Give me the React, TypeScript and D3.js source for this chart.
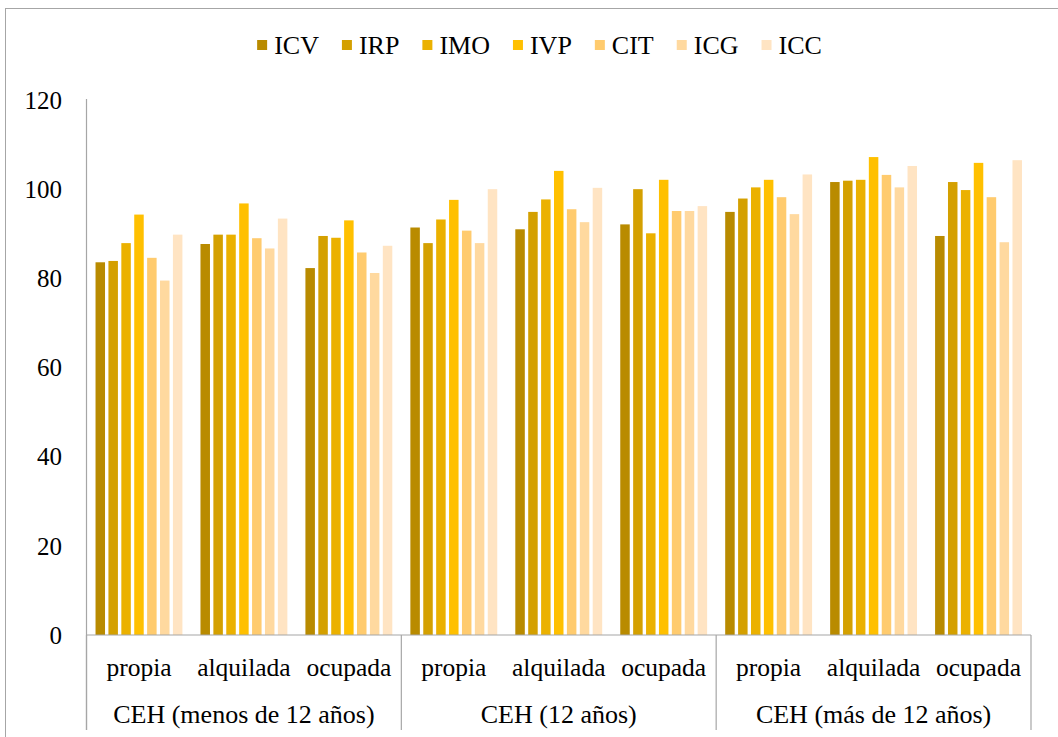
import React, { useEffect, useRef } from "react";
import * as d3 from "d3";

const series = ["ICV", "IRP", "IMO", "IVP", "CIT", "ICG", "ICC"];
const colors = ["#B98B00", "#D4A000", "#EBB100", "#FFC000", "#FFCB6E", "#FFD99F", "#FFE4C3"];
const groups = ["CEH (menos de 12 años)", "CEH (12 años)", "CEH (más de 12 años)"];
const tenures = ["propia", "alquilada", "ocupada"];
const yTicks = [0, 20, 40, 60, 80, 100, 120];

// values[category index][series index], categories in order group x tenure
const ICV = [83.6, 87.7, 82.3, 91.4, 91.0, 92.1, 94.9, 101.6, 89.5];
const IRP = [83.9, 89.8, 89.5, 87.9, 94.9, 100.0, 97.9, 101.9, 101.6];
const IMO = [87.9, 89.8, 89.1, 93.2, 97.7, 90.1, 100.4, 102.1, 99.8];
const IVP = [94.3, 96.8, 93.0, 97.6, 104.1, 102.1, 102.1, 107.2, 105.9];
const CIT = [84.6, 89.0, 85.8, 90.7, 95.5, 95.1, 98.2, 103.2, 98.2];
const ICG = [79.5, 86.7, 81.2, 87.9, 92.6, 95.1, 94.4, 100.4, 88.1];
const ICC = [89.8, 93.4, 87.3, 100.0, 100.3, 96.2, 103.3, 105.2, 106.5];
const seriesValues = [ICV, IRP, IMO, IVP, CIT, ICG, ICC];

const W = 1058;
const H = 737;
const FONT = "'Liberation Serif', 'Times New Roman', serif";

export default function App() {
  const ref = useRef<SVGSVGElement | null>(null);

  useEffect(() => {
    const svg = d3.select(ref.current);
    svg.selectAll("*").remove();

    const left = 86.5;
    const right = 1031;
    const top = 100;
    const bottom = 635;
    const axisColor = "#A6A6A6";

    // outer border
    svg.append("rect").attr("x", 5.5).attr("y", 8.5).attr("width", W + 10).attr("height", H + 10)
      .attr("fill", "white").attr("stroke", axisColor).attr("stroke-width", 1);

    const cats = d3.range(groups.length * tenures.length).map(String);
    const x = d3.scaleBand<string>().domain(cats).range([left, right]).paddingInner(0).paddingOuter(0);
    const xs = d3.scaleBand<string>().domain(series).range([0, x.bandwidth()]).paddingInner(0.264).paddingOuter(0.7);
    const y = d3.scaleLinear().domain([0, 120]).range([bottom, top]);

    // bars
    series.forEach((s, si) => {
      svg.append("g").selectAll("rect").data(seriesValues[si]).enter().append("rect")
        .attr("x", (_d, i) => (x(String(i)) as number) + (xs(s) as number))
        .attr("y", (d) => y(d))
        .attr("width", xs.bandwidth())
        .attr("height", (d) => bottom - y(d))
        .attr("fill", colors[si]);
    });

    // y axis
    svg.append("line").attr("x1", left).attr("x2", left).attr("y1", top - 1).attr("y2", 730)
      .attr("stroke", axisColor).attr("stroke-width", 1.2);
    svg.append("line").attr("x1", left).attr("x2", right).attr("y1", bottom).attr("y2", bottom)
      .attr("stroke", axisColor).attr("stroke-width", 1.2);

    svg.append("g").selectAll("text").data(yTicks).enter().append("text")
      .attr("x", 62).attr("y", (d) => y(d)).attr("dy", "0.35em")
      .attr("text-anchor", "end").attr("font-family", FONT).attr("font-size", 25)
      .attr("fill", "#000").text((d) => String(d));

    // group separators
    const gw = (right - left) / groups.length;
    d3.range(groups.length + 1).forEach((g) => {
      const gx = left + g * gw;
      svg.append("line").attr("x1", gx).attr("x2", gx).attr("y1", bottom).attr("y2", 730)
        .attr("stroke", axisColor).attr("stroke-width", 1.2);
    });

    // category labels
    cats.forEach((c, i) => {
      svg.append("text").attr("x", (x(c) as number) + x.bandwidth() / 2).attr("y", 676)
        .attr("text-anchor", "middle").attr("font-family", FONT).attr("font-size", 25.5)
        .attr("fill", "#000").text(tenures[i % tenures.length]);
    });
    groups.forEach((g, gi) => {
      svg.append("text").attr("x", left + gi * gw + gw / 2).attr("y", 723)
        .attr("text-anchor", "middle").attr("font-family", FONT).attr("font-size", 26)
        .attr("fill", "#000").text(g);
    });

    // legend
    const lg = svg.append("g");
    let cx = 0;
    series.forEach((s, si) => {
      lg.append("rect").attr("x", cx).attr("y", 40).attr("width", 10).attr("height", 10).attr("fill", colors[si]);
      const t = lg.append("text").attr("x", cx + 17).attr("y", 54).attr("font-family", FONT)
        .attr("font-size", 26).attr("fill", "#000").text(s);
      const tw = (t.node() as SVGTextElement).getComputedTextLength();
      cx += 17 + tw + (si < series.length - 1 ? 23 : 0);
    });
    const legendCenter = 539.5;
    lg.attr("transform", `translate(${legendCenter - cx / 2},0)`);
  }, []);

  return (
    <svg ref={ref} width={W} height={H}
      style={{ position: "absolute", left: 0, top: 0, background: "white" }} />
  );
}
